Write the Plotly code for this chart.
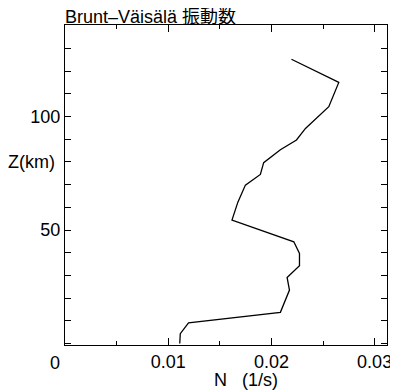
import plotly.graph_objects as go

# Brunt-Vaisala frequency profile
N_values = [0.02194, 0.02653, 0.02556, 0.0233, 0.02243, 0.02087, 0.01925, 0.01893,
            0.01748, 0.01675, 0.01618, 0.02217, 0.02272, 0.02272, 0.02152, 0.02175,
            0.02087, 0.01197, 0.01117, 0.01112]
Z_values = [125.3, 115.1, 104.4, 94.8, 89.7, 85.4, 79.7, 74.5,
            69.8, 62.3, 54.4, 44.8, 39.7, 34.3, 29.1, 23.5,
            13.7, 9.1, 4.3, 0.0]

x_tickvals = [0, 0.01, 0.02, 0.03]
x_ticktext = ["", "0.01", "0.02", "0.03"]
x_minor = [0.005, 0.015, 0.025]
y_tickvals = list(range(0, 141, 10))
y_ticktext = ["50" if v == 50 else ("100" if v == 100 else "") for v in y_tickvals]

FONT = "Liberation Sans, Arial, Noto Sans CJK JP, sans-serif"

fig = go.Figure()
fig.add_trace(go.Scatter(x=N_values, y=Z_values, mode="lines",
                         line=dict(color="black", width=1.3), showlegend=False))

# page has an 8px body margin, so the figure is made 8px smaller
fig.update_layout(
    width=390, height=384,
    margin=dict(l=57, r=11, t=17, b=47, autoexpand=False),
    paper_bgcolor="white", plot_bgcolor="white",
    font=dict(family=FONT, size=18, color="black"),
)
fig.update_xaxes(
    range=[0, 0.0312], tickvals=x_tickvals, ticktext=x_ticktext,
    ticks="inside", ticklen=7, tickwidth=1, tickcolor="black",
    minor=dict(tickvals=x_minor, ticks="inside", ticklen=4, tickcolor="black"),
    showline=True, linecolor="black", linewidth=1, mirror="ticks",
    showgrid=False, zeroline=False, tickfont=dict(size=18),
)
fig.update_yaxes(
    range=[-0.7, 140.4], tickvals=y_tickvals, ticktext=y_ticktext,
    ticks="inside", ticklen=6, tickwidth=1, tickcolor="black",
    showline=True, linecolor="black", linewidth=1, mirror="ticks",
    showgrid=False, zeroline=False, tickfont=dict(size=18),
)

PW, PH = 322.0, 320.0
fig.add_annotation(text="0", xref="paper", yref="paper", x=-10 / PW, y=-6 / PH,
                   xanchor="center", yanchor="top", showarrow=False,
                   font=dict(size=18))
fig.add_annotation(text="Z(km)", xref="paper", yref="paper", x=-8 / PW, y=(345 - 162) / PH,
                   xanchor="right", yanchor="middle", showarrow=False,
                   font=dict(size=18))
fig.add_annotation(text="N   (1/s)", xref="paper", yref="paper", x=(246 - 65) / PW,
                   y=(345 - 380) / PH,
                   xanchor="center", yanchor="middle", showarrow=False,
                   font=dict(size=18))
fig.add_annotation(text="Brunt–Väisälä 振動数", xref="paper", yref="paper", x=0, y=1,
                   xanchor="left", yanchor="bottom", showarrow=False, yshift=-4,
                   xshift=-2, font=dict(size=18))

fig.write_html("out.html")
